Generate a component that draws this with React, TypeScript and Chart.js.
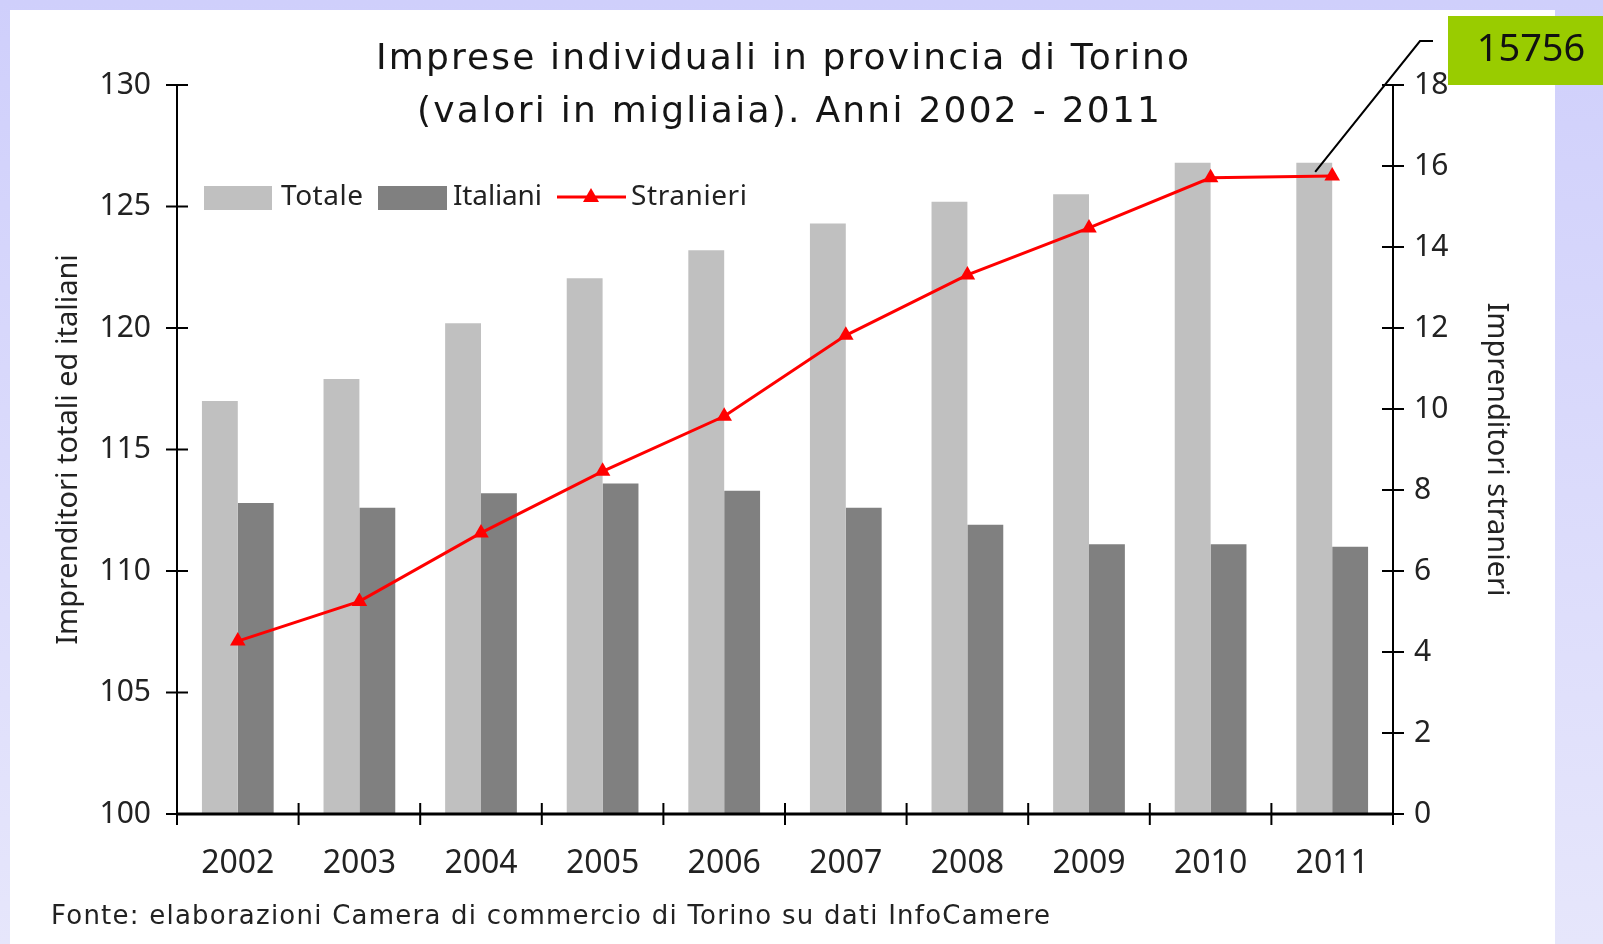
import React, { useEffect, useRef } from "react";
import { Chart, registerables } from "chart.js";

Chart.register(...registerables);

const years = ["2002", "2003", "2004", "2005", "2006", "2007", "2008", "2009", "2010", "2011"];
const totale = [117.0, 117.9, 120.2, 122.05, 123.2, 124.3, 125.2, 125.5, 126.8, 126.8];
const italiani = [112.8, 112.6, 113.2, 113.6, 113.3, 112.6, 111.9, 111.1, 111.1, 111.0];
const stranieri = [4.27, 5.25, 6.94, 8.46, 9.82, 11.82, 13.31, 14.47, 15.71, 15.756];
const seriesNames = ["Totale", "Italiani", "Stranieri"];
const titleLines = ["Imprese individuali in provincia di Torino", "(valori in migliaia). Anni 2002 - 2011"];
const leftAxisTitle = "Imprenditori totali ed italiani";
const rightAxisTitle = "Imprenditori stranieri";
const sourceNote = "Fonte: elaborazioni Camera di commercio di Torino su dati InfoCamere";
const calloutLabel = "15756";
const leftRange = [100, 130, 5];
const rightRange = [0, 18, 2];

const FONT = "'Noto Sans', sans-serif";
const WIDE = "'DejaVu Sans', sans-serif";
const TEXT = "#222222";
const C_TOT = "#c0c0c0";
const C_ITA = "#808080";
const C_STR = "#ff0000";

function fitText(ctx: any, text: string, left: number, cy: number, width: number) {
  ctx.letterSpacing = "0px";
  const w = ctx.measureText(text).width;
  const extra = (width - w) / Math.max(1, text.length - 1);
  ctx.letterSpacing = `${extra}px`;
  ctx.textAlign = "left";
  ctx.fillText(text, left, cy);
  ctx.letterSpacing = "0px";
}

const decorPlugin = {
  id: "decor",
  beforeDraw(chart: any) {
    const ctx = chart.ctx;
    const W = chart.width, H = chart.height;
    ctx.save();
    const g = ctx.createLinearGradient(0, 0, 0, H);
    g.addColorStop(0, "#cfcffb");
    g.addColorStop(1, "#e6e6fb");
    ctx.fillStyle = g;
    ctx.fillRect(0, 0, W, H);
    ctx.fillStyle = "#ffffff";
    ctx.fillRect(10, 10, 1545, H - 10);
    ctx.restore();
  },
  afterDatasetsDraw(chart: any) {
    const ctx = chart.ctx;
    const ca = chart.chartArea;
    const y = chart.scales.y, y1 = chart.scales.y1, x = chart.scales.x;
    ctx.save();
    ctx.strokeStyle = "#000";
    ctx.lineWidth = 2;
    ctx.beginPath();
    ctx.moveTo(ca.left, ca.top); ctx.lineTo(ca.left, ca.bottom);
    ctx.moveTo(ca.right, ca.top); ctx.lineTo(ca.right, ca.bottom);
    ctx.stroke();
    ctx.beginPath();
    y.ticks.forEach((t: any) => {
      const py = y.getPixelForValue(t.value);
      ctx.moveTo(ca.left - 11, py); ctx.lineTo(ca.left + 11, py);
    });
    y1.ticks.forEach((t: any) => {
      const py = y1.getPixelForValue(t.value);
      ctx.moveTo(ca.right - 11, py); ctx.lineTo(ca.right + 11, py);
    });
    const n = years.length;
    for (let i = 0; i <= n; i++) {
      let px;
      if (i === 0) px = ca.left;
      else if (i === n) px = ca.right;
      else px = (x.getPixelForValue(i - 1) + x.getPixelForValue(i)) / 2;
      ctx.moveTo(px, ca.bottom - 11); ctx.lineTo(px, ca.bottom + 11);
    }
    ctx.stroke();
    ctx.lineWidth = 3;
    ctx.beginPath();
    ctx.moveTo(ca.left, ca.bottom); ctx.lineTo(ca.right, ca.bottom);
    ctx.stroke();
    ctx.restore();
  },
  afterDraw(chart: any) {
    const ctx = chart.ctx;
    ctx.save();
    ctx.fillStyle = "#151515";
    ctx.textBaseline = "middle";
    // title
    ctx.font = `36px ${WIDE}`;
    fitText(ctx, titleLines[0], 376, 60, 813);
    fitText(ctx, titleLines[1], 417, 113, 743);
    // legend
    const ly = 197;
    ctx.font = `28px ${FONT}`;
    ctx.textAlign = "left";
    ctx.fillStyle = C_TOT;
    ctx.fillRect(204, 186, 68, 24);
    ctx.fillStyle = TEXT;
    fitText(ctx, seriesNames[0], 281, ly, 82);
    ctx.fillStyle = C_ITA;
    ctx.fillRect(378, 186, 69, 24);
    ctx.fillStyle = TEXT;
    fitText(ctx, seriesNames[1], 453, ly, 89);
    ctx.strokeStyle = C_STR;
    ctx.lineWidth = 3;
    ctx.beginPath();
    ctx.moveTo(557, ly); ctx.lineTo(626, ly);
    ctx.stroke();
    ctx.fillStyle = C_STR;
    ctx.beginPath();
    ctx.moveTo(591, ly - 9); ctx.lineTo(599, ly + 5); ctx.lineTo(583, ly + 5);
    ctx.closePath(); ctx.fill();
    ctx.fillStyle = TEXT;
    fitText(ctx, seriesNames[2], 631, ly, 116);
    // footer
    ctx.font = `26px ${WIDE}`;
    fitText(ctx, sourceNote, 51, 917, 999);
    // callout
    const meta = chart.getDatasetMeta(0);
    const last = meta.data[meta.data.length - 1];
    ctx.strokeStyle = "#000";
    ctx.lineWidth = 2;
    ctx.beginPath();
    ctx.moveTo(last.x - 17, last.y - 4);
    ctx.lineTo(1420, 41);
    ctx.lineTo(1433, 41);
    ctx.stroke();
    ctx.fillStyle = "#99cc00";
    ctx.fillRect(1448, 16, 155, 69);
    ctx.fillStyle = "#111";
    ctx.textAlign = "center";
    ctx.font = `38px ${FONT}`;
    ctx.fillText(calloutLabel, 1531, 50);
    ctx.restore();
  },
};

export default function App() {
  const ref = useRef<HTMLCanvasElement>(null);
  useEffect(() => {
    if (!ref.current) return;
    const chart = new Chart(ref.current, {
      type: "bar",
      data: {
        labels: years,
        datasets: [
          {
            type: "line",
            label: seriesNames[2],
            data: stranieri,
            yAxisID: "y1",
            borderColor: C_STR,
            backgroundColor: C_STR,
            borderWidth: 3,
            pointStyle: "triangle",
            pointRadius: 9,
            pointBorderWidth: 0,
            pointBackgroundColor: C_STR,
            order: 0,
            tension: 0,
          } as any,
          {
            type: "bar",
            label: seriesNames[0],
            data: totale,
            yAxisID: "y",
            backgroundColor: C_TOT,
            categoryPercentage: 0.59,
            barPercentage: 1.0,
            order: 1,
          },
          {
            type: "bar",
            label: seriesNames[1],
            data: italiani,
            yAxisID: "y",
            backgroundColor: C_ITA,
            categoryPercentage: 0.59,
            barPercentage: 1.0,
            order: 2,
          },
        ],
      },
      options: {
        responsive: false,
        animation: false,
        layout: { padding: { top: 85, left: 0, right: 0, bottom: 0 } },
        plugins: { legend: { display: false }, tooltip: { enabled: false }, title: { display: false } },
        scales: {
          x: {
            offset: true,
            grid: { display: false, drawTicks: false },
            border: { display: false },
            ticks: { color: TEXT, font: { family: FONT, size: 32 }, padding: 31, maxRotation: 0 },
            afterFit: (s: any) => { s.height = 130; },
          },
          y: {
            position: "left",
            min: leftRange[0], max: leftRange[1],
            grid: { display: false, drawTicks: false },
            border: { display: false },
            ticks: { stepSize: leftRange[2], color: TEXT, font: { family: FONT, size: 30 }, padding: 26 },
            title: { display: true, text: leftAxisTitle, color: TEXT, font: { family: FONT, size: 29 }, padding: { top: 51, bottom: 0 } },
            afterFit: (s: any) => { s.width = 177; },
          },
          y1: {
            position: "right",
            min: rightRange[0], max: rightRange[1],
            grid: { display: false, drawTicks: false },
            border: { display: false },
            ticks: { stepSize: rightRange[2], color: TEXT, font: { family: FONT, size: 30 }, padding: 21 },
            title: { display: true, text: rightAxisTitle, color: TEXT, font: { family: FONT, size: 29 }, padding: { top: 89, bottom: 0 } },
            afterFit: (s: any) => { s.width = 210; },
          },
        },
      },
      plugins: [decorPlugin],
    });
    return () => chart.destroy();
  }, []);
  return (
    <div style={{ position: "fixed", left: 0, top: 0, width: 1603, height: 944 }}>
      <canvas ref={ref} width={1603} height={944} style={{ display: "block" }} />
    </div>
  );
}
